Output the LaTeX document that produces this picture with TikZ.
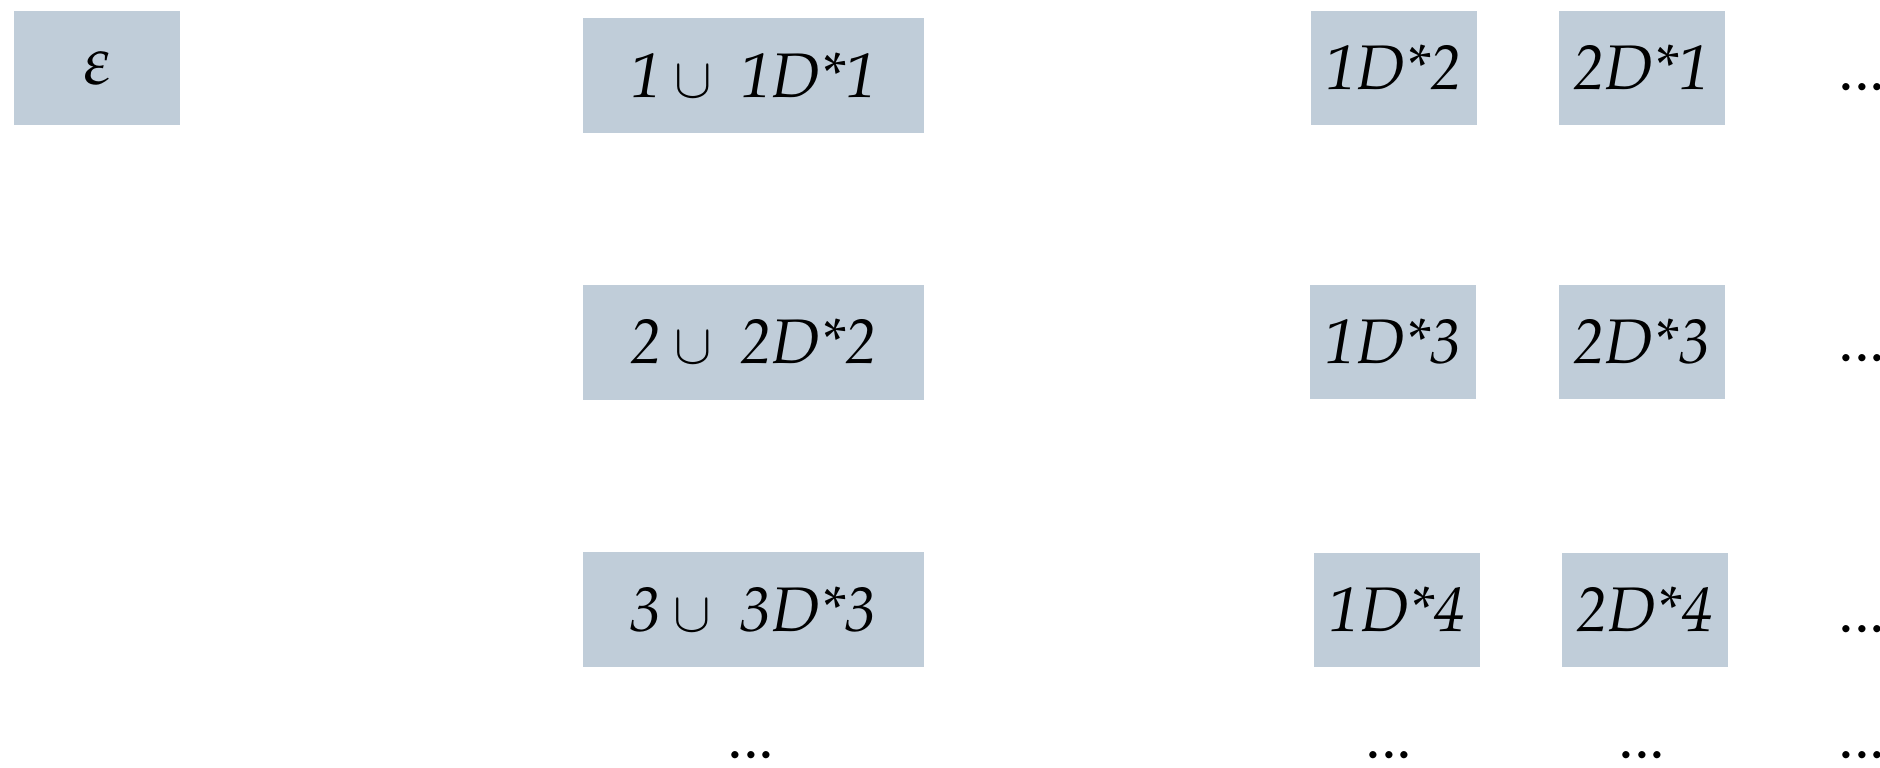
\documentclass[tikz,border=0pt]{standalone}
\usepackage[T1]{fontenc}
\usepackage{mathpazo}
\definecolor{boxfill}{RGB}{192,205,217}
\newcommand{\uni}{\hspace{6pt}{\fontsize{27}{30}\selectfont$\cup$}\hspace{14pt}}
\begin{document}
\begin{tikzpicture}[x=0.5pt,y=-0.5pt,
  cell/.style={fill=boxfill, inner sep=0pt, minimum width=83pt, minimum height=57pt,
    font=\fontsize{31.5}{36}\selectfont\itshape},
  wide/.style={cell, minimum width=170.5pt, minimum height=57.5pt},
  more/.style={inner sep=0pt, font=\fontsize{31.5}{36}\selectfont}]
\useasboundingbox (0,0) rectangle (1880,767);
\node[cell] (eps) at (97,68) {\fontsize{34}{38}\selectfont$\varepsilon$};
\node[wide] (u1) at (753.5,75.5) {1\uni 1D*1};
\node[wide] (u2) at (753.5,342) {2\uni 2D*2};
\node[wide] (u3) at (753,609.5) {3\uni 3D*3};
\node[cell] (a1) at (1393.5,68) {1D*2};
\node[cell] (b1) at (1641.5,68) {2D*1};
\node[cell] (a2) at (1393,342) {1D*3};
\node[cell] (b2) at (1641.5,342) {2D*3};
\node[cell] (a3) at (1397,609.5) {1D*4};
\node[cell] (b3) at (1644.5,609.5) {2D*4};
\node[more] (r1) at (1862,87) {...};
\node[more] (r2) at (1862,358) {...};
\node[more] (r3) at (1862,629) {...};
\node[more] (d1) at (751,755) {...};
\node[more] (d2) at (1389,755) {...};
\node[more] (d3) at (1642,755) {...};
\node[more] (d4) at (1862,755) {...};
\end{tikzpicture}
\end{document}
